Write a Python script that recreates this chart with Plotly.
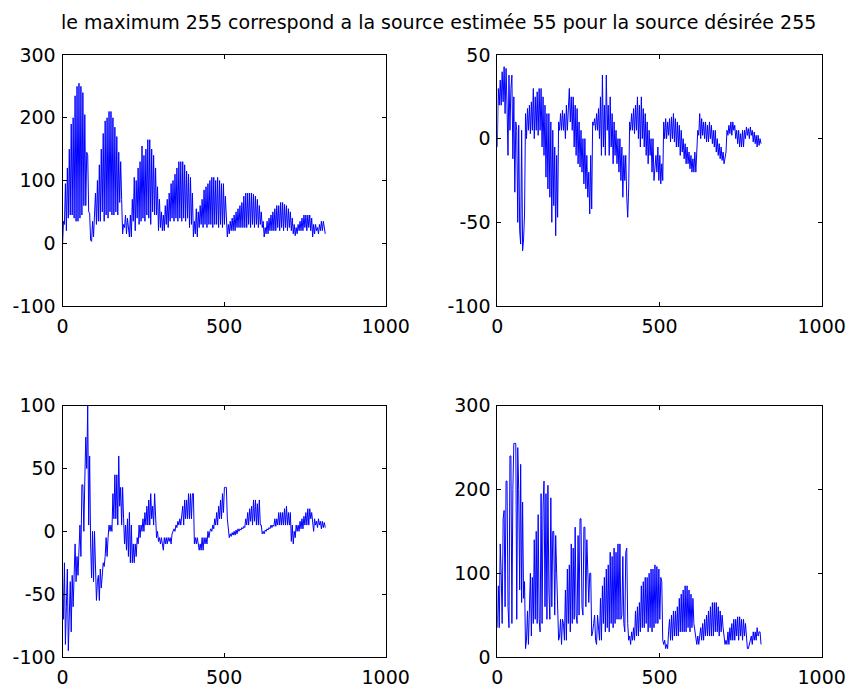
import numpy as np
import plotly.graph_objects as go

# Sample spacing between consecutive stored values (signal index units)
SAMPLE_STEP = 3

# Signal values, one every SAMPLE_STEP samples (index 0 .. 813); each row covers 30 samples
desired_source = [
    -5, 35, 30, 95, 20, 120, 40, 150, 45, 190,
    45, 200, 40, 235, 35, 250, 35, 255, 40, 250,
    45, 240, 60, 205, 60, 145, 140, 50, 48, 5,
    3, 35, 10, 40, 80, 30, 100, 35, 125, 35,
    150, 50, 175, 35, 195, 45, 200, 40, 210, 50,
    210, 45, 200, 45, 185, 50, 170, 45, 145, 65,
    130, 70, 15, 30, 25, 45, 15, 40, 25, 10,
    45, 10, 70, 35, 105, 20, 100, 40, 120, 30,
    130, 35, 155, 40, 140, 35, 150, 45, 165, 40,
    165, 30, 150, 50, 140, 45, 120, 45, 90, 20,
    70, 25, 50, 20, 45, 20, 60, 30, 70, 25,
    80, 35, 95, 40, 100, 35, 110, 40, 120, 35,
    130, 40, 130, 35, 130, 40, 125, 35, 115, 40,
    110, 25, 105, 30, 80, 10, 35, 15, 55, 10,
    50, 25, 60, 30, 70, 25, 85, 30, 90, 25,
    95, 30, 100, 30, 105, 25, 105, 30, 100, 30,
    105, 25, 100, 30, 95, 25, 95, 30, 75, 25,
    10, 30, 15, 35, 20, 40, 20, 45, 20, 50,
    25, 55, 25, 60, 25, 65, 25, 75, 25, 80,
    25, 80, 30, 80, 25, 80, 30, 78, 25, 75,
    30, 70, 25, 60, 30, 50, 25, 35, 10, 25,
    15, 35, 15, 40, 20, 45, 20, 50, 20, 55,
    20, 60, 25, 60, 20, 65, 25, 65, 20, 62,
    25, 60, 20, 55, 25, 50, 20, 40, 15, 30,
    12, 25, 15, 30, 20, 35, 20, 40, 20, 45,
    25, 45, 20, 45, 25, 45, 20, 40, 10, 30,
    15, 30, 20, 25, 15, 30, 20, 35, 20, 35,
    20, 15,
]

second_source = [
    -5, 30, 20, 35, 20, 40, 22, 43, 15, 42,
    20, -10, 38, 5, 30, 38, -12, 25, -32, 10,
    5, -50, 8, -55, -63, 5, -67, -60, -45, 15,
    0, 18, 5, 20, 3, 22, 5, 30, 0, 25,
    5, 28, 2, 30, 5, 30, -5, 25, -10, 20,
    -23, 15, -30, 15, -35, 10, -50, 5, -40, -5,
    -58, -10, -47, 10, 5, 15, 5, 17, 5, 15,
    0, 20, 5, 25, 30, 10, 25, 5, 25, -5,
    20, -10, 18, -15, 10, -17, 5, -20, 0, -27,
    0, -30, -10, -35, -20, -45, -10, -42, 10, 8,
    12, 5, 15, 5, 18, 0, 25, -10, 38, -5,
    20, -10, 38, 5, 20, -10, 25, -5, 15, -15,
    10, -10, 5, -15, 0, -20, 0, -25, -5, -35,
    -10, -25, -10, -35, -47, -30, 10, 5, 15, 5,
    18, 3, 20, 5, 25, 0, 20, -5, 25, 0,
    18, -5, 15, -10, 10, -15, 5, -10, 0, -20,
    0, -25, -15, -10, -20, -5, -25, -10, -27, -15,
    -25, 10, 0, 12, 0, 10, 2, 12, -2, 13,
    0, 15, -2, 12, -5, 10, -5, 8, -10, 5,
    -8, 0, -12, -3, -15, -5, -15, -8, -18, -10,
    -20, -12, -20, -8, -20, -5, 5, 2, 15, 0,
    12, 2, 10, 0, 10, -2, 8, -2, 10, 0,
    8, -3, 5, -5, 5, -8, 0, -10, -3, -12,
    -5, -13, -8, -15, -10, -8, 5, 2, 8, 3,
    10, 2, 10, 5, 8, 0, 5, -3, 5, -5,
    3, -5, 5, -5, 5, 0, 7, 2, 6, 0,
    7, 2, 5, -2, 4, -3, 2, -5, 2, -4,
    0, -3,
]

third_source = [
    -35, -70, -25, -90, -60, -30, -95, -60, -40, -80,
    -35, -60, -25, -10, -40, -20, -35, -20, 5, -20,
    37, 37, 0, 40, 75, 50, 100, 5, 60, -10,
    -37, 0, -40, 0, -35, -55, -40, -35, -55, -30,
    -45, -30, -25, -28, -20, -5, -20, -5, 5, 0,
    5, 0, 30, 10, 45, 10, 45, 5, 60, 20,
    35, 5, 35, 10, -10, 5, -15, 10, -20, 15,
    -25, 5, -25, -10, -25, -10, -20, -5, -10, 5,
    -5, 5, 0, 10, 0, 15, 5, 20, 5, 25,
    5, 30, 10, 20, 5, 30, 5, -5, 0, -8,
    -5, -10, -5, -12, -15, -5, -10, -5, -10, -5,
    -8, -5, -10, -2, 0, 2, 0, 5, 3, 8,
    5, 10, 5, 15, 20, 5, 25, 10, 25, 10,
    30, 10, 30, 10, 30, 30, -10, -5, -10, -5,
    -10, -15, -10, -15, -5, -15, -5, -10, -5, -10,
    0, -5, 0, 2, 0, 5, 2, 10, 5, 15,
    5, 20, 10, 25, 10, 30, 15, 35, 35, 35,
    10, 0, -5, -2, -4, -1, -3, 0, -3, 1,
    -2, 2, 0, 2, 1, 3, 2, 4, 3, 10,
    5, 15, 5, 18, 8, 20, 5, 25, 8, 25,
    5, 22, 5, 25, 5, 5, -2, 0, -2, 1,
    0, 2, 1, 3, 2, 5, 3, 5, 4, 10,
    4, 10, 5, 15, 5, 15, 5, 15, 5, 18,
    5, 20, 5, 15, 5, 15, -8, 5, -10, 0,
    -5, 5, 0, 5, 0, 8, 2, 10, 2, 12,
    5, 15, 5, 18, 5, 18, 10, 15, 5, 0,
    10, 5, 8, 3, 10, 5, 8, 2, 8, 3,
    7, 3,
]

estimated_source = [
    35, 85, 35, 135, 100, 40, 165, 175, 60, 210,
    210, 60, 35, 240, 240, 40, 200, 255, 255, 255,
    45, 250, 200, 80, 230, 65, 185, 70, 90, 10,
    20, 55, 15, 55, 100, 25, 95, 40, 140, 45,
    150, 40, 170, 45, 30, 195, 40, 180, 210, 60,
    195, 45, 205, 80, 45, 190, 60, 150, 150, 50,
    145, 100, 50, 20, 25, 45, 15, 45, 40, 20,
    80, 20, 105, 40, 110, 30, 135, 40, 130, 45,
    155, 50, 40, 145, 50, 165, 165, 60, 50, 155,
    155, 60, 140, 100, 65, 100, 100, 25, 30, 40,
    50, 20, 15, 50, 35, 20, 70, 20, 85, 40,
    95, 30, 105, 35, 110, 30, 125, 40, 120, 35,
    130, 40, 125, 45, 135, 45, 135, 45, 50, 120,
    40, 30, 125, 130, 40, 20, 25, 15, 30, 20,
    35, 20, 55, 25, 60, 25, 65, 30, 85, 35,
    90, 35, 95, 40, 95, 30, 100, 35, 105, 30,
    105, 35, 110, 40, 108, 40, 105, 45, 95, 90,
    20, 15, 20, 10, 15, 10, 30, 45, 20, 50,
    20, 55, 25, 55, 25, 60, 25, 70, 30, 75,
    30, 80, 30, 85, 30, 85, 35, 80, 30, 75,
    35, 70, 40, 30, 25, 15, 25, 15, 25, 35,
    20, 40, 20, 45, 25, 50, 25, 55, 25, 60,
    25, 65, 25, 65, 30, 65, 30, 60, 25, 55,
    30, 50, 35, 20, 15, 20, 15, 30, 15, 35,
    20, 40, 20, 45, 20, 45, 25, 48, 20, 48,
    25, 45, 20, 45, 25, 40, 20, 10, 10, 15,
    20, 25, 15, 30, 20, 30, 20, 35, 25, 30,
    30, 15,
]

TITLE = "le maximum 255 correspond a la source estimée 55 pour la source désirée 255"

X_TICKS = [0, 500, 1000]
Y_TICKS = {
    1: [-100, 0, 100, 200, 300],
    2: [-100, -50, 0, 50],
    3: [-100, -50, 0, 50, 100],
    4: [0, 100, 200, 300],
}
Y_RANGES = {1: [-100, 300], 2: [-100, 50], 3: [-100, 100], 4: [0, 300]}

W, H = 846, 693
FONT = "DejaVu Sans"
FONT_SIZE = 19
BLUE = "rgb(0,0,255)"

# Axes boxes in pixels: (left, right, top, bottom)
boxes = {
    1: (62.5, 385.7, 55.0, 306.0),
    2: (497.3, 821.7, 55.0, 306.0),
    3: (62.5, 385.7, 405.7, 657.0),
    4: (497.3, 821.7, 405.7, 657.0),
}

series = {1: desired_source, 2: second_source, 3: third_source, 4: estimated_source}

fig = go.Figure()
layout = {}
for k in range(1, 5):
    y = np.array(series[k], dtype=float)
    x = np.arange(len(y)) * SAMPLE_STEP
    sfx = "" if k == 1 else str(k)
    fig.add_trace(go.Scatter(
        x=x, y=y, mode="lines",
        line=dict(color=BLUE, width=1),
        xaxis="x" + sfx, yaxis="y" + sfx,
        showlegend=False, hoverinfo="skip",
    ))
    l, r, t, b = boxes[k]
    common = dict(
        showline=True, linecolor="black", linewidth=1, mirror="ticks",
        ticks="inside", ticklen=4, tickwidth=1, tickcolor="black",
        showgrid=False, zeroline=False, automargin=False,
        tickfont=dict(family=FONT, size=FONT_SIZE, color="black"),
    )
    layout["xaxis" + sfx] = dict(
        common, domain=[l / W, r / W], range=[0, 1000],
        tickvals=X_TICKS, ticktext=[str(v) for v in X_TICKS],
        anchor="y" + sfx, ticklabelstandoff=3,
    )
    layout["yaxis" + sfx] = dict(
        common, domain=[1 - b / H, 1 - t / H], range=Y_RANGES[k],
        tickvals=Y_TICKS[k], ticktext=[str(v) for v in Y_TICKS[k]],
        anchor="x" + sfx, ticklabelstandoff=2,
    )

fig.update_layout(
    width=W, height=H,
    margin=dict(l=0, r=0, t=0, b=0),
    paper_bgcolor="white", plot_bgcolor="white",
    **layout,
)

fig.add_annotation(
    text=TITLE, xref="paper", yref="paper",
    x=438 / W, y=1 - 22 / H, xanchor="center", yanchor="middle",
    showarrow=False, font=dict(family=FONT, size=FONT_SIZE, color="black"),
)

fig.write_html("out.html")
